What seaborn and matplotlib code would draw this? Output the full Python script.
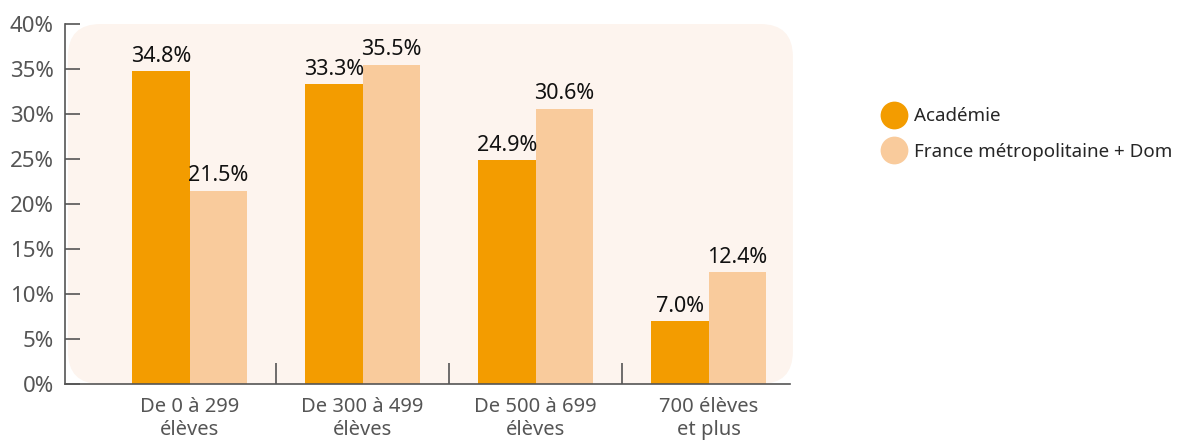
import pandas as pd
import matplotlib.pyplot as plt
import seaborn as sns
from matplotlib.patches import FancyBboxPatch
from matplotlib.lines import Line2D

# Data
categories = ['De 0 à 299\nélèves', 'De 300 à 499\nélèves', 'De 500 à 699\nélèves', '700 élèves\net plus']
series = ['Académie', 'France métropolitaine + Dom']
academie = [34.8, 33.3, 24.9, 7.0]
france = [21.5, 35.5, 30.6, 12.4]
yticks = [0, 5, 10, 15, 20, 25, 30, 35, 40]

colors = ['#F39C00', '#F9CB9C']
bg_color = '#FDF4EE'
grey = '#555555'


def main():
    df = pd.DataFrame({
        'cat': categories * 2,
        'serie': [series[0]] * 4 + [series[1]] * 4,
        'val': academie + france,
    })

    sns.set_style('white')
    plt.rcParams['font.family'] = ['Noto Sans', 'DejaVu Sans']

    fig = plt.figure(figsize=(11.94, 4.45), dpi=100)
    ax = fig.add_axes([65 / 1194, 61 / 445, 725 / 1194, 360 / 445])

    # rounded background panel
    aspect = 725 / 360
    bg = FancyBboxPatch((0.004, 0), 1.0, 1.0,
                        boxstyle='round,pad=0,rounding_size=0.045',
                        mutation_aspect=aspect,
                        transform=ax.transAxes, facecolor=bg_color,
                        edgecolor='none', clip_on=False, zorder=0)
    ax.add_patch(bg)

    sns.barplot(data=df, x='cat', y='val', hue='serie', order=categories,
                hue_order=series, palette=colors, width=0.665, gap=0,
                saturation=1, linewidth=0, ax=ax, legend=False, zorder=2)

    for cont in ax.containers:
        ax.bar_label(cont, fmt='%.1f%%', padding=3, fontsize=15.5, color='#111111')

    ax.set_xlim(-0.72, 3.47)
    ax.set_ylim(0, 40)
    ax.set_yticks(yticks)
    ax.set_yticklabels([f'{t}%' for t in yticks], fontsize=16, color=grey)
    ax.set_xticks(range(len(categories)))
    ax.set_xticklabels(categories, fontsize=14.5, color=grey, linespacing=1.25)
    ax.set_xticks([0.5, 1.5, 2.5], minor=True)
    ax.set_xlabel('')
    ax.set_ylabel('')
    ax.set_facecolor('none')

    ax.tick_params(axis='y', direction='in', length=11, width=1.2, color=grey, pad=8, left=True)
    ax.tick_params(axis='x', which='major', length=0, pad=9)
    ax.tick_params(axis='x', which='minor', direction='in', length=15, width=1.2,
                   color=grey, bottom=True)

    for side in ['top', 'right']:
        ax.spines[side].set_visible(False)
    for side in ['left', 'bottom']:
        ax.spines[side].set_color(grey)
        ax.spines[side].set_linewidth(1.2)
        ax.spines[side].set_zorder(3)

    handles = [Line2D([], [], marker='o', linestyle='none', markersize=20,
                      markerfacecolor=c, markeredgecolor='none') for c in colors]
    fig.legend(handles, series, loc='center left', bbox_to_anchor=(866 / 1194, 1 - 134 / 445),
               frameon=False, fontsize=13.5, handletextpad=0.45, labelspacing=0.95,
               handlelength=1.2)

    fig.savefig('out.png', dpi=100)


if __name__ == "__main__":
    main()
